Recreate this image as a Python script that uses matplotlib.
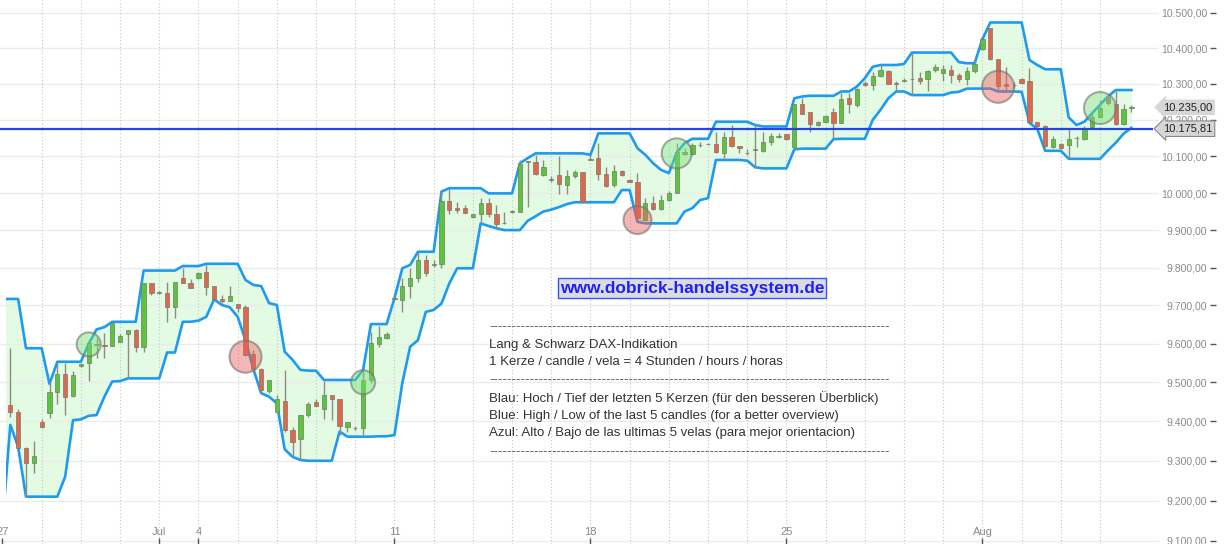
import numpy as np
import matplotlib
matplotlib.use('Agg')
import matplotlib.pyplot as plt
import matplotlib.transforms as mtransforms
from matplotlib.patches import Rectangle
from matplotlib.ticker import FixedLocator, FuncFormatter, NullLocator

plt.rcParams['font.family'] = ['Liberation Sans', 'DejaVu Sans']

# ============================================================================
# DAX 4h candles (Lang & Schwarz)
opens = [9442, 9423, 9332, 9294, 9398, 9421, 9476, 9522, 9466, 9542,
         9549, 9596, 9597, 9595, 9605, 9625, 9636, 9590, 9758, 9733,
         9732, 9695, 9772, 9759, 9772, 9789, 9751, 9718, 9712, 9704,
         9695, 9572, 9534, 9478, 9423, 9453, 9378, 9354, 9416, 9449,
         9431, 9467, 9457, 9386, 9383, 9382, 9506, 9599, 9614, 9717,
         9714, 9750, 9772, 9820, 9808, 9810, 9979, 9959, 9959, 9935,
         9942, 9972, 9943, 9919, 9948, 9950, 10084, 10085, 10049, 10034,
         10049, 10022, 10047, 10058, 10090, 10095, 10052, 10022, 10060, 10036,
         10030, 9927, 9974, 9956, 9981, 10001, 10106, 10106, 10130, 10133,
         10134, 10110, 10152, 10128, 10109, 10117, 10115, 10140, 10153, 10161,
         10125, 10244, 10221, 10186, 10195, 10221, 10191, 10262, 10242, 10302,
         10297, 10323, 10337, 10303, 10308, 10313, 10316, 10314, 10339, 10330,
         10339, 10325, 10313, 10337, 10397, 10457, 10369, 10300, 10298, 10314,
         10309, 10194, 10184, 10126, 10133, 10131, 10149, 10148, 10180, 10209,
         10263, 10244, 10188, 10234]
highs = [9588, 9431, 9336, 9351, 9405, 9502, 9549, 9549, 9529, 9548,
         9603, 9614, 9628, 9654, 9625, 9636, 9637, 9760, 9759, 9738,
         9763, 9762, 9799, 9770, 9788, 9807, 9751, 9727, 9751, 9704,
         9701, 9583, 9536, 9506, 9467, 9532, 9386, 9416, 9450, 9456,
         9502, 9467, 9457, 9399, 9388, 9532, 9631, 9645, 9630, 9724,
         9772, 9798, 9842, 9834, 9820, 10004, 10010, 9977, 9968, 9943,
         9986, 9986, 9968, 9950, 9954, 10090, 10086, 10104, 10090, 10045,
         10101, 10063, 10063, 10058, 10104, 10136, 10072, 10076, 10063, 10038,
         10054, 9986, 9992, 9995, 10006, 10136, 10122, 10136, 10138, 10137,
         10168, 10168, 10186, 10128, 10119, 10186, 10168, 10165, 10165, 10162,
         10244, 10260, 10221, 10197, 10214, 10232, 10274, 10274, 10288, 10309,
         10334, 10353, 10339, 10309, 10316, 10388, 10334, 10339, 10356, 10353,
         10353, 10330, 10348, 10367, 10426, 10457, 10369, 10348, 10306, 10316,
         10344, 10194, 10186, 10156, 10136, 10174, 10156, 10182, 10219, 10255,
         10264, 10279, 10244, 10241]
lows = [9412, 9330, 9210, 9269, 9384, 9408, 9444, 9416, 9462, 9539,
        9502, 9562, 9563, 9594, 9604, 9512, 9579, 9579, 9727, 9730,
        9657, 9666, 9758, 9745, 9770, 9727, 9717, 9706, 9711, 9683,
        9568, 9527, 9476, 9472, 9421, 9374, 9310, 9302, 9412, 9438,
        9405, 9403, 9365, 9374, 9378, 9365, 9497, 9592, 9613, 9714,
        9683, 9719, 9763, 9778, 9802, 9798, 9943, 9945, 9945, 9932,
        9918, 9936, 9902, 9916, 9945, 9950, 9963, 10049, 10046, 10031,
        9997, 9997, 10040, 9977, 10089, 10036, 10016, 10017, 10046, 10030,
        9927, 9927, 9954, 9954, 9979, 10001, 10104, 10104, 10125, 10131,
        10109, 10095, 10125, 10108, 10104, 10067, 10113, 10131, 10150, 10145,
        10119, 10217, 10168, 10182, 10193, 10150, 10191, 10220, 10237, 10294,
        10283, 10319, 10300, 10281, 10306, 10269, 10300, 10279, 10334, 10309,
        10302, 10306, 10297, 10330, 10395, 10367, 10279, 10283, 10288, 10300,
        10195, 10180, 10126, 10124, 10120, 10095, 10125, 10145, 10177, 10205,
        10242, 10186, 10186, 10223]
closes = [9423, 9332, 9295, 9312, 9386, 9476, 9522, 9463, 9519, 9546,
          9601, 9599, 9595, 9653, 9620, 9636, 9590, 9758, 9732, 9734,
          9697, 9761, 9759, 9746, 9786, 9749, 9718, 9711, 9725, 9692,
          9571, 9534, 9480, 9506, 9457, 9378, 9348, 9416, 9444, 9439,
          9467, 9458, 9388, 9399, 9382, 9506, 9601, 9616, 9625, 9720,
          9751, 9772, 9820, 9785, 9810, 9979, 9954, 9953, 9947, 9943,
          9972, 9942, 9916, 9918, 9951, 10079, 10086, 10052, 10071, 10037,
          10024, 10045, 10056, 9977, 10092, 10052, 10019, 10061, 10049, 10030,
          9932, 9974, 9956, 9981, 10001, 10111, 10113, 10131, 10132, 10135,
          10111, 10154, 10128, 10122, 10108, 10118, 10140, 10156, 10155, 10147,
          10244, 10217, 10189, 10195, 10212, 10191, 10258, 10244, 10285, 10297,
          10322, 10339, 10300, 10301, 10310, 10315, 10309, 10337, 10348, 10342,
          10325, 10314, 10337, 10356, 10426, 10369, 10294, 10294, 10296, 10302,
          10195, 10184, 10128, 10148, 10122, 10148, 10151, 10174, 10209, 10232,
          10246, 10188, 10229, 10235]

# high / low of the last 5 candles, starting one candle before the first one
chan_upper = [9717, 9717, 9717, 9588, 9588, 9588, 9496, 9553, 9553, 9553,
              9553, 9600, 9637, 9643, 9657, 9657, 9657, 9657, 9792, 9792,
              9792, 9792, 9792, 9804, 9804, 9804, 9810, 9810, 9810, 9810,
              9810, 9767, 9754, 9751, 9706, 9701, 9579, 9558, 9532, 9530,
              9530, 9506, 9506, 9506, 9506, 9506, 9532, 9651, 9651, 9651,
              9719, 9798, 9807, 9842, 9842, 9842, 10004, 10013, 10013, 10013,
              10013, 10013, 9999, 9999, 9999, 9999, 10081, 10095, 10108, 10108,
              10108, 10108, 10108, 10108, 10108, 10104, 10163, 10163, 10163, 10163,
              10163, 10122, 10104, 10081, 10063, 10054, 10110, 10136, 10148, 10148,
              10148, 10195, 10195, 10195, 10195, 10195, 10186, 10182, 10182, 10182,
              10182, 10260, 10265, 10267, 10267, 10267, 10267, 10279, 10279, 10293,
              10316, 10348, 10353, 10353, 10353, 10356, 10388, 10388, 10388, 10388,
              10388, 10388, 10361, 10358, 10358, 10426, 10473, 10473, 10473, 10473,
              10473, 10367, 10353, 10341, 10341, 10341, 10207, 10186, 10195, 10219,
              10242, 10265, 10283, 10283, 10283]
chan_lower = [9140, 9391, 9335, 9210, 9210, 9210, 9210, 9210, 9260, 9403,
              9405, 9414, 9416, 9463, 9502, 9503, 9510, 9510, 9510, 9510,
              9510, 9577, 9577, 9657, 9657, 9660, 9670, 9716, 9701, 9695,
              9670, 9609, 9534, 9472, 9463, 9446, 9329, 9310, 9302, 9300,
              9300, 9300, 9300, 9374, 9361, 9361, 9361, 9361, 9362, 9362,
              9365, 9498, 9592, 9609, 9683, 9688, 9705, 9758, 9798, 9798,
              9798, 9918, 9911, 9905, 9900, 9900, 9900, 9925, 9937, 9950,
              9955, 9962, 9970, 9975, 9975, 9975, 9975, 9975, 9975, 10008,
              10008, 9922, 9918, 9918, 9918, 9918, 9918, 9950, 9959, 9981,
              9986, 10090, 10090, 10090, 10090, 10088, 10070, 10067, 10067, 10067,
              10067, 10119, 10121, 10121, 10121, 10121, 10147, 10148, 10148, 10148,
              10148, 10200, 10228, 10260, 10279, 10279, 10269, 10269, 10269, 10269,
              10269, 10276, 10278, 10287, 10287, 10287, 10287, 10279, 10279, 10279,
              10278, 10192, 10175, 10115, 10115, 10115, 10093, 10093, 10093, 10093,
              10093, 10116, 10137, 10162, 10178]

ref_level = 10175.81

# signal circles (candle index, price, kind)
signal_idx = [10, 30, 45, 80, 85, 126, 139]
signal_price = [9598, 9566, 9500, 9927, 10108, 10292, 10233]
signal_kind = ['up', 'down', 'up', 'down', 'up', 'down', 'up']

price_levels = list(range(9100, 10600, 100))
day_label_pos = [-1, 19, 24, 49, 74, 99, 124]
day_label_txt = ['27', 'Jul', '4', '11', '18', '25', 'Aug']
CANDLES_PER_DAY = 5

info_lines = ['Lang & Schwarz DAX-Indikation',
              '1 Kerze / candle / vela = 4 Stunden / hours / horas',
              'Blau: Hoch / Tief der letzten 5 Kerzen (für den besseren Überblick)',
              'Blue: High / Low of the last 5 candles (for a better overview)',
              'Azul: Alto / Bajo de las ultimas 5 velas (para mejor orientacion)']


def de_fmt(v, pos=None):
    return f"{v:,.2f}".replace(',', '#').replace('.', ',').replace('#', '.')


# ============================================================================
W, H = 1224, 544
fig = plt.figure(figsize=(W / 100, H / 100), dpi=100)
ax = fig.add_axes([0, 0, 1216 / W, 1])
ax.set_yscale('log')
ax.set_xlim(-1.314, 153.79)
ax.set_ylim(9092.6, 10537)
for s in ax.spines.values():
    s.set_visible(False)

x = np.arange(len(opens))
cx = np.arange(-1, len(opens))
o, h, l, c = map(np.array, (opens, highs, lows, closes))

clip = Rectangle((-0.55, 8000), 200, 4000, transform=ax.transData)

# channel fill + lines
band = ax.fill_between(cx, chan_lower, chan_upper, color='#e3fae3', lw=0, zorder=1)
band.set_clip_path(clip)

# grid
ax.hlines(price_levels, -1.5, 146.5, color='#ebebeb', lw=1, zorder=1.2)
for d in np.arange(-1, len(opens), CANDLES_PER_DAY)[1:]:
    ax.axvline(d, color='#c6c6c6', lw=0.8, ls=(0, (1, 2)), zorder=1.3)

for arr in (chan_upper, chan_lower):
    ln, = ax.plot(cx, arr, color='#1d9bf0', lw=1.9, zorder=2.5, solid_joinstyle='round')
    ln.set_clip_path(clip)

# candles
up = c >= o
body_col = np.where(up, '#5cc43c', '#e2664e')
ax.vlines(x, l, h, color='#8d8d80', lw=1, zorder=3)
ax.bar(x, np.maximum(np.abs(c - o), 2.0), bottom=np.minimum(o, c), width=0.55,
       color=body_col, edgecolor='#737a68', lw=0.5, zorder=4)

# reference line
ax.hlines(ref_level, -1.5, 145.8, color='#2444e6', lw=1.6, zorder=5)

# signal circles
sig_radius = [12, 16, 12, 14, 15, 16, 16]   # px
face = [(0.45, 0.88, 0.45, 0.45) if k == 'up' else (0.92, 0.38, 0.36, 0.45) for k in signal_kind]
sizes = [(2 * r / 1.389) ** 2 for r in sig_radius]
ax.scatter(signal_idx, signal_price, s=sizes, c=face,
           edgecolors=[(0.45, 0.45, 0.45, 0.6)], linewidths=1.5, zorder=6)

# axes ticks
ax.yaxis.tick_right()
ax.yaxis.set_major_locator(FixedLocator(price_levels))
ax.yaxis.set_minor_locator(NullLocator())
ax.yaxis.set_major_formatter(FuncFormatter(de_fmt))
ax.tick_params(axis='y', direction='in', length=4, width=1, color='#555555',
               pad=-6.5, labelsize=7.6, labelcolor='#8a8a8a')
for t in ax.yaxis.get_major_ticks():
    t.label2.set_horizontalalignment('right')
    t.label2.set_bbox(dict(fc='white', ec='none', pad=1))

ax.set_xticks(day_label_pos, day_label_txt)
ax.xaxis.set_minor_locator(NullLocator())
ax.tick_params(axis='x', direction='in', length=4, width=1, color='#555555',
               pad=-12, labelsize=8, labelcolor='#8a8a8a')

# price tags at the right
trans = mtransforms.blended_transform_factory(ax.transAxes, ax.transData)
ax.text(1212 / 1216, closes[-1], de_fmt(closes[-1]), transform=trans, ha='right', va='center',
        fontsize=8, color='#222222', zorder=10, clip_on=False,
        bbox=dict(boxstyle='larrow,pad=0.25', fc='#d6d6d6', ec='none'))
ax.text(1212 / 1216, ref_level, de_fmt(ref_level), transform=trans, ha='right', va='center',
        fontsize=8, color='#222222', zorder=11, clip_on=False,
        bbox=dict(boxstyle='larrow,pad=0.25', fc='#d6d6d6', ec='#888888', lw=0.8))

# texts
def fx(px):
    return px / W


def fy(py):
    return 1 - py / H


fig.text(fx(692), fy(288), 'www.dobrick-handelssystem.de', ha='center', va='center',
         fontsize=12.5, fontweight='bold', color='#1f1fff',
         bbox=dict(boxstyle='square,pad=0.12', fc='#dcdcdc', ec='#3355ff', lw=1))

dashes = '-' * 89
for py in (327, 380, 452):
    fig.text(fx(489), fy(py), dashes, ha='left', va='center', fontsize=9.5, color='#555555')

for py, txt in zip((345, 362, 398, 415.5, 433), info_lines):
    fig.text(fx(489), fy(py), txt, ha='left', va='center', fontsize=9.5, color='#333333')

fig.savefig('out.png', dpi=100)
